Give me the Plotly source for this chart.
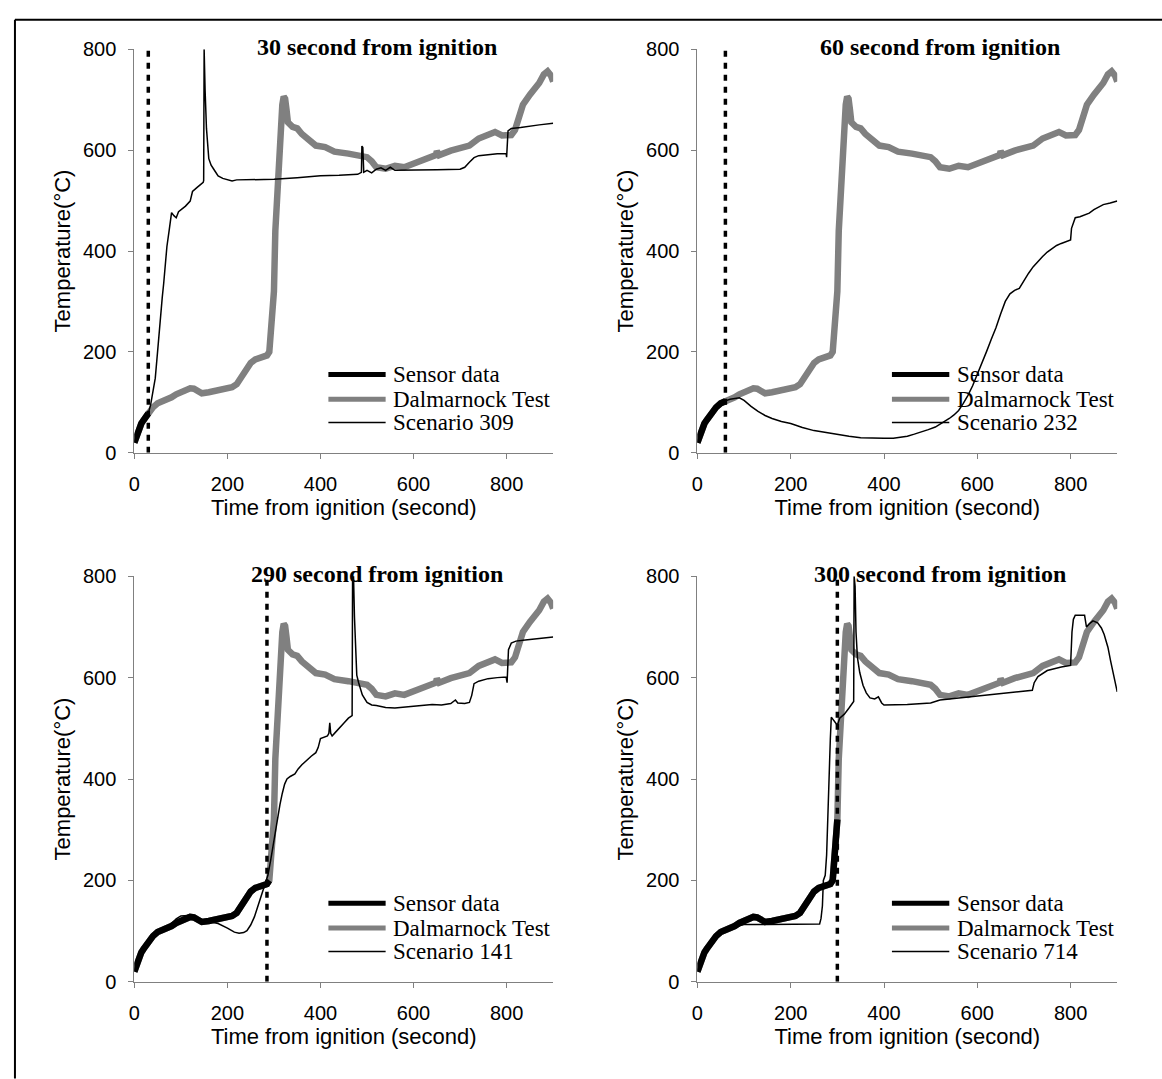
import plotly.graph_objects as go

# ---------------- data ----------------
dal_t = [0, 3, 6, 10, 15, 20, 25, 30, 40, 50, 60, 70, 80, 90, 100, 110, 120, 128, 135, 145,
         160, 180, 200, 210, 220, 230, 240, 250, 260, 270, 280, 285, 290, 293, 296, 300, 303,
         306, 310, 314, 318, 321, 324, 327, 330, 340, 350, 360, 370, 380, 390, 410, 430, 460,
         480, 500, 510, 520, 540, 560, 580, 600, 620, 640, 648, 650, 655, 680, 700, 720, 740,
         760, 775, 790, 810, 818, 825, 835, 850, 870, 880, 888, 895, 900]
dal_T = [20, 28, 40, 50, 58, 65, 72, 78, 90, 98, 102, 104, 110, 116, 121, 125, 128, 127, 122, 118,
         120, 124, 128, 130, 136, 150, 165, 178, 185, 188, 190, 193, 200, 228, 268, 320, 440,
         500, 560, 630, 690, 706, 702, 680, 655, 646, 643, 632, 623, 614, 609, 606, 597, 593,
         589, 586, 578, 566, 563, 569, 566, 573, 583, 589, 590, 598, 590, 599, 603, 609, 623,
         629, 636, 629, 630, 640, 665, 690, 710, 733, 750, 756, 748, 736]

sc309_t = [0, 10, 20, 30, 35, 40, 45, 50, 55, 60, 63, 67, 70, 75, 80, 85, 90, 95, 110, 120, 125,
           135, 148, 149, 150, 152, 155, 160, 165, 170, 180, 190, 200, 210, 220, 250, 300, 350,
           400, 440, 460, 480, 488, 489, 491, 493, 500, 510, 520, 530, 540, 550, 560, 600, 650,
           700, 710, 720, 730, 740, 760, 780, 799, 800, 803, 810, 830, 850, 870, 900]
sc309_T = [20, 50, 65, 78, 95, 121, 148, 201, 262, 308, 335, 375, 409, 442, 476, 470, 466, 478,
           489, 499, 518, 526, 536, 540, 800, 720, 643, 583, 570, 563, 549, 544, 542, 539, 541,
           541, 542, 545, 549, 550, 551, 552, 556, 608, 605, 556, 560, 555, 562, 565, 560, 566,
           560, 560, 561, 562, 566, 576, 585, 589, 591, 593, 593, 586, 638, 643, 645, 648, 650, 653]

sc232_t = [0, 10, 20, 30, 40, 50, 60, 70, 80, 90, 100, 115, 130, 145, 160, 180, 200, 225, 250,
           275, 300, 325, 350, 375, 400, 420, 435, 450, 465, 480, 495, 510, 525, 540, 550, 560,
           570, 580, 590, 600, 610, 620, 630, 640, 650, 660, 670, 680, 690, 700, 710, 720, 730,
           740, 750, 760, 770, 780, 790, 800, 802, 810, 820, 830, 840, 850, 860, 870, 885, 900]
sc232_T = [20, 50, 65, 78, 90, 98, 103, 106, 108, 109, 104, 92, 82, 74, 68, 62, 58, 50, 44, 40,
           37, 33, 30, 29, 29, 29, 31, 33, 37, 41, 46, 51, 59, 68, 75, 84, 98, 114, 133, 155, 178,
           201, 225, 248, 275, 300, 315, 322, 326, 342, 356, 369, 380, 389, 398, 405, 411, 415,
           418, 422, 445, 466, 468, 472, 475, 482, 487, 492, 495, 499]

sc141_t = [0, 10, 20, 30, 40, 50, 60, 70, 80, 90, 100, 115, 130, 150, 165, 180, 200, 215, 225,
           235, 242, 250, 258, 265, 272, 280, 287, 293, 298, 303, 308, 313, 318, 323, 328, 335,
           345, 352, 360, 370, 380, 390, 395, 400, 410, 415, 418, 420, 422, 425, 432, 440, 450,
           460, 468, 469, 471, 473, 476, 478, 482, 490, 500, 510, 520, 540, 560, 580, 600, 620,
           640, 660, 680, 690, 695, 710, 720, 725, 730, 740, 760, 780, 799, 801, 804, 810, 820,
           840, 860, 880, 900]
sc141_T = [20, 52, 67, 80, 92, 99, 103, 108, 115, 124, 130, 131, 128, 121, 118, 115, 106, 98,
           96, 97, 101, 112, 128, 148, 168, 188, 210, 240, 268, 300, 325, 350, 372, 390, 400,
           405, 410, 420, 428, 437, 445, 452, 462, 480, 483, 485, 490, 511, 490, 485, 492, 501,
           510, 520, 525, 800, 800, 720, 640, 605, 590, 566, 551, 546, 545, 541, 540, 542, 544,
           545, 547, 546, 549, 556, 550, 549, 551, 565, 588, 593, 598, 600, 601, 590, 655, 668,
           672, 674, 676, 678, 680]

sc714_t = [0, 10, 20, 30, 40, 50, 60, 70, 80, 90, 100, 150, 200, 220, 240, 262, 265, 268, 270,
           274, 277, 279, 281, 283, 285, 287, 290, 295, 300, 305, 315, 325, 335, 336, 338, 340,
           343, 348, 355, 362, 370, 380, 388, 395, 400, 450, 500, 520, 560, 600, 650, 700, 718,
           722, 730, 750, 780, 800, 803, 806, 810, 830, 834, 840, 848, 858, 866, 872, 880, 886,
           892, 897, 900]
sc714_T = [20, 50, 66, 78, 90, 98, 103, 106, 108, 110, 113, 113, 113, 114, 114, 114, 125, 150,
           200, 210, 250, 320, 380, 440, 480, 522, 518, 512, 506, 520, 528, 540, 553, 800, 780,
           690, 640, 610, 585, 570, 560, 558, 562, 550, 546, 547, 550, 556, 560, 563, 568, 574,
           575, 590, 602, 614, 621, 624, 690, 715, 723, 723, 700, 706, 712, 708, 698, 685, 660,
           632, 605, 580, 572]

panel_titles = ["30 second from ignition", "60 second from ignition",
                "290 second from ignition", "300 second from ignition"]
scenario_names = ["Scenario 309", "Scenario 232", "Scenario 141", "Scenario 714"]
scenario_t = [sc309_t, sc232_t, sc141_t, sc714_t]
scenario_T = [sc309_T, sc232_T, sc141_T, sc714_T]
sensor_end = [30, 60, 290, 300]       # last time of sensor data shown in each panel
marker_time = [30, 60, 285, 300]      # dotted vertical line position
x_ticks = [0, 200, 400, 600, 800]
y_ticks = [0, 200, 400, 600, 800]
legend_labels = ["Sensor data", "Dalmarnock Test"]

# ---------------- layout constants ----------------
W, H = 1162, 1079
GRAY = "#808080"
SERIF = "Liberation Serif, Times New Roman, serif"
SANS = "Liberation Sans, Arial, sans-serif"

px_x = [(129, 550), (695, 1117), (129, 550), (695, 1117)]
px_y = [(39, 451), (39, 451), (577, 991), (577, 991)]

fig = go.Figure()
layout_axes = {}
shapes = []
annotations = []

for i in range(4):
    n = "" if i == 0 else str(i + 1)
    xa, ya = "x" + n, "y" + n
    x0, x1 = px_x[i]
    yt, yb = px_y[i]
    layout_axes["xaxis" + n] = dict(
        domain=[x0 / W, x1 / W], anchor=ya, range=[0, 900], tickvals=x_ticks,
        showline=True, linecolor=GRAY, linewidth=1, ticks="outside", ticklen=5,
        tickcolor=GRAY, showgrid=False, zeroline=False, ticklabelstandoff=8,
        tickfont=dict(family=SANS, size=20, color="black"),
        title=dict(text="Time from ignition (second)", standoff=0,
                   font=dict(family=SANS, size=22, color="black")))
    layout_axes["yaxis" + n] = dict(
        domain=[1 - yb / H, 1 - yt / H], anchor=xa, range=[0, 800], tickvals=y_ticks,
        showline=True, linecolor=GRAY, linewidth=1, ticks="outside", ticklen=5,
        tickcolor=GRAY, showgrid=False, zeroline=False, ticklabelstandoff=8,
        tickfont=dict(family=SANS, size=20, color="black"),
        title=dict(text="Temperature(°C)", standoff=6,
                   font=dict(family=SANS, size=22, color="black")))

    # Dalmarnock test (gray, thick)
    fig.add_trace(go.Scatter(x=dal_t, y=dal_T, mode="lines", xaxis=xa, yaxis=ya,
                             line=dict(color=GRAY, width=6.5), showlegend=False))
    # Sensor data (black, thick) = measured data available up to the forecast time
    st = [t for t in dal_t if t <= sensor_end[i]]
    sT = dal_T[:len(st)]
    fig.add_trace(go.Scatter(x=st, y=sT, mode="lines", xaxis=xa, yaxis=ya,
                             line=dict(color="black", width=6.5), showlegend=False))
    # Scenario (thin black)
    fig.add_trace(go.Scatter(x=scenario_t[i], y=scenario_T[i], mode="lines", xaxis=xa,
                             yaxis=ya, line=dict(color="black", width=1.5), showlegend=False))
    # dotted vertical line at forecast time
    fig.add_trace(go.Scatter(x=[marker_time[i], marker_time[i]], y=[0, 800], mode="lines",
                             xaxis=xa, yaxis=ya,
                             line=dict(color="black", width=3.5, dash="6px,6px"),
                             showlegend=False))

    # panel title (placed just above the plotting area)
    annotations.append(dict(text="<b>" + panel_titles[i] + "</b>", xref=xa,
                            yref=ya + " domain", x=521, y=1.006, showarrow=False,
                            xanchor="center", yanchor="middle",
                            font=dict(family=SERIF, size=24, color="black")))

    # manual legend
    rows = [155, 106, 60]
    styles = [("black", 5), (GRAY, 5), ("black", 1.5)]
    labels = legend_labels + [scenario_names[i]]
    for r, (c, w), lab in zip(rows, styles, labels):
        shapes.append(dict(type="line", xref=xa, yref=ya, x0=417, x1=540, y0=r, y1=r,
                           line=dict(color=c, width=w)))
        annotations.append(dict(text=lab, xref=xa, yref=ya, x=552, y=r, showarrow=False,
                                xanchor="left", yanchor="middle",
                                font=dict(family=SERIF, size=23, color="black")))

# outer frame (left and top edges visible in the reference)
shapes.append(dict(type="line", xref="paper", yref="paper", x0=9 / W, x1=9 / W,
                   y0=-0.01, y1=1 - 9 / H, line=dict(color="black", width=2)))
shapes.append(dict(type="line", xref="paper", yref="paper", x0=9 / W, x1=1.01,
                   y0=1 - 9 / H, y1=1 - 9 / H, line=dict(color="black", width=2)))

fig.update_layout(width=W, height=H, autosize=False, margin=dict(l=0, r=0, t=0, b=0),
                  paper_bgcolor="white", plot_bgcolor="white", shapes=shapes,
                  annotations=annotations, showlegend=False, **layout_axes)

fig.write_html("out.html", config={"displayModeBar": False},
               post_script="document.body.style.margin='0';"
                           "document.body.style.overflow='hidden';")
